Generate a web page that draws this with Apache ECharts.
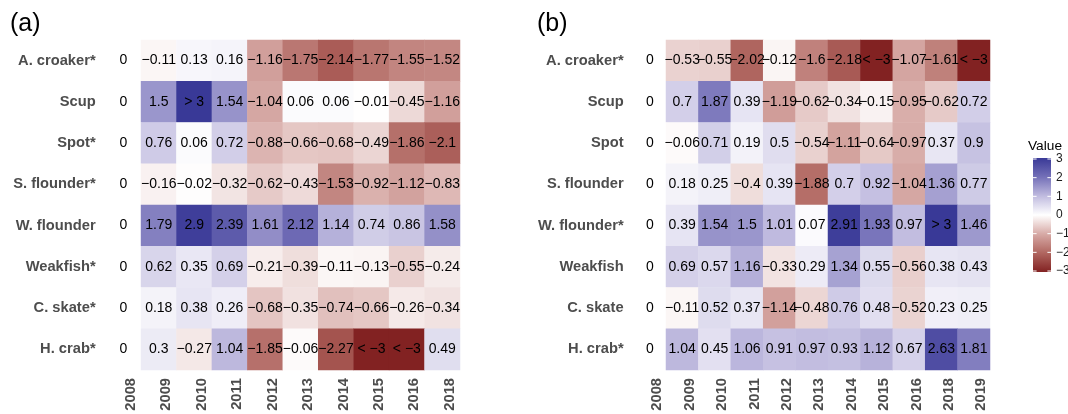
<!DOCTYPE html>
<html>
<head>
<meta charset="utf-8">
<script src="https://cdn.jsdelivr.net/npm/echarts@6/dist/echarts.min.js"></script>
<style>
html,body{margin:0;padding:0;background:#fff;}
#chart{width:1068px;height:414px;}
</style>
</head>
<body>
<div id="chart"></div>
<script>
// ---- data ----
var yearsA = ['2008','2009','2010','2011','2012','2013','2014','2015','2016','2018'];
var speciesA = ['A. croaker*','Scup','Spot*','S. flounder*','W. flounder','Weakfish*','C. skate*','H. crab*'];
// values > 3 stored as 3.5, values < -3 stored as -3.5 (shown as "> 3" / "< −3")
var valuesA = [
  [0,-0.11,0.13,0.16,-1.16,-1.75,-2.14,-1.77,-1.55,-1.52],
  [0,1.5,3.5,1.54,-1.04,0.06,0.06,-0.01,-0.45,-1.16],
  [0,0.76,0.06,0.72,-0.88,-0.66,-0.68,-0.49,-1.86,-2.1],
  [0,-0.16,-0.02,-0.32,-0.62,-0.43,-1.53,-0.92,-1.12,-0.83],
  [0,1.79,2.9,2.39,1.61,2.12,1.14,0.74,0.86,1.58],
  [0,0.62,0.35,0.69,-0.21,-0.39,-0.11,-0.13,-0.55,-0.24],
  [0,0.18,0.38,0.26,-0.68,-0.35,-0.74,-0.66,-0.26,-0.34],
  [0,0.3,-0.27,1.04,-1.85,-0.06,-2.27,-3.5,-3.5,0.49]
];
var yearsB = ['2008','2009','2010','2011','2012','2013','2014','2015','2016','2018','2019'];
var speciesB = ['A. croaker*','Scup','Spot','S. flounder','W. flounder*','Weakfish','C. skate','H. crab*'];
var valuesB = [
  [0,-0.53,-0.55,-2.02,-0.12,-1.6,-2.18,-3.5,-1.07,-1.61,-3.5],
  [0,0.7,1.87,0.39,-1.19,-0.62,-0.34,-0.15,-0.95,-0.62,0.72],
  [0,-0.06,0.71,0.19,0.5,-0.54,-1.11,-0.64,-0.97,0.37,0.9],
  [0,0.18,0.25,-0.4,0.39,-1.88,0.7,0.92,-1.04,1.36,0.77],
  [0,0.39,1.54,1.5,1.01,0.07,2.91,1.93,0.97,3.5,1.46],
  [0,0.69,0.57,1.16,-0.33,0.29,1.34,0.55,-0.56,0.38,0.43],
  [0,-0.11,0.52,0.37,-1.14,-0.48,0.76,0.48,-0.52,0.23,0.25],
  [0,1.04,0.45,1.06,0.91,0.97,0.93,1.12,0.67,2.63,1.81]
];
var legendTicks = [3,2,1,0,-1,-2,-3];
var scaleColors = ['#822222','#b06660','#d7aaa6','#ffffff','#c0bbdf','#7470b8','#393997'];

function toTriples(vals){
  var out = [];
  for (var r = 0; r < vals.length; r++)
    for (var c = 0; c < vals[r].length; c++)
      out.push([c, r, vals[r][c]]);
  return out;
}
function fmt(v){
  if (v > 3) return '> 3';
  if (v < -3) return '< \u22123';
  return String(v).replace('-', '\u2212');
}

var FONT = 'Liberation Sans';
function xAxisCfg(idx, data){
  return {type:'category', gridIndex: idx, data: data, position:'bottom',
    axisLine:{show:false}, axisTick:{show:false}, splitLine:{show:false},
    axisLabel:{rotate:90, fontFamily:FONT, fontWeight:'bold', fontSize:14.7, color:'#4d4d4d', margin:8, verticalAlign:'top', interval:0}};
}
function yAxisCfg(idx, data){
  return {type:'category', gridIndex: idx, data: data, inverse:true,
    axisLine:{show:false}, axisTick:{show:false}, splitLine:{show:false},
    axisLabel:{fontFamily:FONT, fontWeight:'bold', fontSize:14.7, color:'#4d4d4d', margin:10, interval:0}};
}
function seriesCfg(idx, vals){
  return {type:'heatmap', xAxisIndex: idx, yAxisIndex: idx, data: toTriples(vals),
    itemStyle:{borderWidth:0},
    label:{show:true, fontFamily:FONT, fontSize:14, color:'#000',
      formatter:function(p){return fmt(p.value[2]);}},
    emphasis:{disabled:true}};
}

// legend graphic
var barTop = 158, barH = 114, barX = 1033, barW = 18;
var stops = [];
for (var i = 0; i < scaleColors.length; i++) {
  stops.push({offset: 1 - i/(scaleColors.length-1), color: scaleColors[i]});
}
stops.sort(function(a,b){return a.offset-b.offset;});
var graphics = [
  {type:'text', left:10, top:12, style:{text:'(a)', font:'25px "Liberation Sans"', fill:'#000'}},
  {type:'text', left:537, top:12, style:{text:'(b)', font:'25px "Liberation Sans"', fill:'#000'}},
  {type:'text', left:1028, top:139, style:{text:'Value', font:'13.7px "Liberation Sans"', fill:'#000'}},
  {type:'rect', shape:{x:barX, y:barTop, width:barW, height:barH},
    style:{fill:new echarts.graphic.LinearGradient(0,0,0,1,stops)}}
];
var tickStep = (barH - 2) / 6;
for (var k = 0; k < legendTicks.length; k++) {
  var ty = barTop + 1 + (3 - legendTicks[k]) * tickStep;
  graphics.push({type:'line', shape:{x1:barX, y1:ty, x2:barX+3.6, y2:ty}, style:{stroke:'#fff', lineWidth:1}});
  graphics.push({type:'line', shape:{x1:barX+barW-3.6, y1:ty, x2:barX+barW, y2:ty}, style:{stroke:'#fff', lineWidth:1}});
  graphics.push({type:'text', x:1056, y:ty, style:{text:String(legendTicks[k]).replace('-', '\u2212'), font:'12px "Liberation Sans"', fill:'#1a1a1a', verticalAlign:'middle', textAlign:'left'}});
}

var chart = echarts.init(document.getElementById('chart'), null, {renderer:'canvas'});
chart.setOption({
  animation:false,
  backgroundColor:'#fff',
  grid:[
    {left:105.6, top:40, width:354.4, height:330},
    {left:633.6, top:40, width:356.4, height:330}
  ],
  xAxis:[xAxisCfg(0, yearsA), xAxisCfg(1, yearsB)],
  yAxis:[yAxisCfg(0, speciesA), yAxisCfg(1, speciesB)],
  visualMap:{type:'continuous', min:-3, max:3, show:false, calculable:false,
    inRange:{color:scaleColors}, outOfRange:{color:['#822222']}},
  series:[seriesCfg(0, valuesA), seriesCfg(1, valuesB)],
  graphic:graphics
});
</script>
</body>
</html>
